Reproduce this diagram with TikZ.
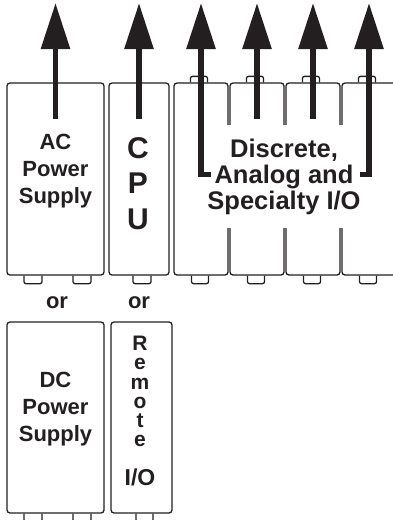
\documentclass[tikz,border=0pt]{standalone}
\usepackage{fontspec}
\setmainfont{Liberation Sans}
\usetikzlibrary{arrows.meta, positioning}
\definecolor{ink}{HTML}{231F20}

\begin{document}
\begin{tikzpicture}[
    x=1pt, y=-1pt,
    box/.style={rectangle, rounded corners=3pt, draw=ink, line width=1.3pt,
                minimum height=192pt, inner sep=0pt},
    tab/.style={draw=ink, line width=1.3pt, rounded corners=2pt},
    lbl/.style={font=\bfseries\fontsize{22}{27}\selectfont, align=center,
                text=ink, inner sep=0pt},
    arr/.style={-{Triangle[length=46pt, width=28pt]}, line width=5.8pt, draw=ink}
]
  \useasboundingbox (0,0) rectangle (393,520);
  \coordinate (top) at (0,3);

  % base rack
  \node[box, minimum width=97pt] (ac)  at (55.5,179) {};
  \node[box, minimum width=60pt] (cpu) at (139,179)  {};
  \foreach \i in {1,...,4}
    \node[box, minimum width=54pt] (io\i) at (145+56*\i,179) {};

  \foreach \dx in {-31.5,17.5}
    \draw[tab] ([xshift=\dx]ac.south) -- ++(0,8) -- ++(18,0) -- ++(0,-8);
  \draw[tab] ([xshift=-6]cpu.south) -- ++(0,8) -- ++(18,0) -- ++(0,-8);
  \foreach \i in {1,...,4} {
    \draw[tab] ([xshift=-10.5]io\i.north) -- ++(0,-6) -- ++(17,0) -- ++(0,6);
    \draw[tab] ([xshift=-9.5]io\i.south) -- ++(0,8) -- ++(17,0) -- ++(0,-8);
  }

  \node[lbl] (aclbl) at (55.5,171) {AC\\Power\\Supply};
  \node[lbl, font=\bfseries\fontsize{30}{35.5}\selectfont] (cpulbl) at (138,183.5) {C\\P\\U};
  \node[lbl, fill=white, minimum height=103pt,
        font=\bfseries\fontsize{25.5}{26}\selectfont] (iolbl) at (284,176.5)
        {Discrete,\\Analog and\\Specialty I/O};

  \node[lbl] (or1) at (57,303)  {or};
  \node[lbl] (or2) at (139,303) {or};

  % alternatives
  \node[box, minimum width=97pt, minimum height=191pt] (dc)  at (55.5,417.5) {};
  \node[box, minimum width=61pt, minimum height=191pt] (rio) at (141.5,417.5) {};
  \foreach \dx in {-31.5,17.5}
    \draw[tab] ([xshift=\dx]dc.south) -- ++(0,8) -- ++(18,0) -- ++(0,-8);
  \draw[tab] ([xshift=-5.5]rio.south) -- ++(0,8) -- ++(17,0) -- ++(0,-8);

  \node[lbl] (dclbl) at (55.5,409) {DC\\Power\\Supply};
  \node[lbl, font=\bfseries\fontsize{21}{19.2}\selectfont] (remlbl) at (140,391.5)
        {R\\e\\m\\o\\t\\e};
  \node[lbl, font=\bfseries\fontsize{23}{27}\selectfont] (riolbl) at (140,477.5) {I/O};

  % outputs
  \draw[arr] ([yshift=-37pt]ac.north)  -- (ac.north |- top);
  \draw[arr] ([yshift=-37pt]cpu.north) -- (cpu.north |- top);
  \foreach \i in {2,3}
    \draw[arr] ([yshift=-37pt]io\i.north) -- (io\i.north |- top);
  \draw[arr] ([shift={(4pt,2pt)}]iolbl.west)  -| (io1.north |- top);
  \draw[arr] ([shift={(-1pt,2pt)}]iolbl.east) -| (io4.north |- top);
\end{tikzpicture}
\end{document}
